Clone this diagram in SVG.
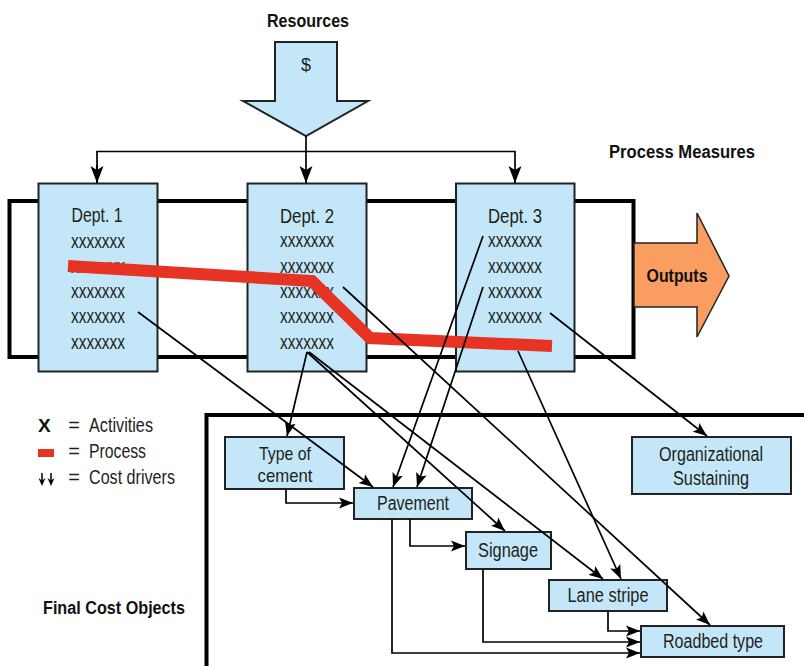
<svg xmlns="http://www.w3.org/2000/svg" width="804" height="666" viewBox="0 0 804 666">
<style>
.t{font-family:"Liberation Sans Narrow","Liberation Sans",Arial,sans-serif;fill:#231f20;text-anchor:middle}
.b{font-family:"Liberation Sans Narrow","Liberation Sans",Arial,sans-serif;fill:#111;font-weight:bold}
.dept{font-size:20px}
.lbl{font-size:20px}
.box{fill:#c3e7f8;stroke:#222;stroke-width:2}
.frame{fill:none;stroke:#000;stroke-width:4}
.c{fill:none;stroke:#000;stroke-width:1.7}
</style>
<defs>
<marker id="ah" markerUnits="userSpaceOnUse" markerWidth="15" markerHeight="12" refX="14" refY="5.5" orient="auto" viewBox="0 0 15 11">
<path d="M0,0 L14,5.5 L0,11 L3,5.5 z" fill="#000"/>
</marker>
<marker id="ahb" markerUnits="userSpaceOnUse" markerWidth="18" markerHeight="14" refX="17" refY="6.5" orient="auto" viewBox="0 0 18 13">
<path d="M0,0 L17,6.5 L0,13 L4,6.5 z" fill="#000"/>
</marker>
</defs>

<!-- Process frame -->
<rect class="frame" x="9.5" y="201" width="624" height="156"/>

<!-- Final cost objects frame -->
<path class="frame" d="M206.5,666 V415 H804"/>

<!-- Resources -->
<g id="resources">
<text class="b" x="308" y="27" font-size="18" text-anchor="middle" textLength="82" lengthAdjust="spacingAndGlyphs">Resources</text>
<polygon points="275,42 337,42 337,101 368,101 306,136 243,101 275,101" fill="#c3e7f8" stroke="#222" stroke-width="2"/>
<text class="t" x="306" y="71" font-size="18">$</text>
</g>

<!-- Outputs -->
<g id="outputs">
<polygon points="634,243 697,243 697,213 729,276 697,337 697,307 634,307" fill="#f99d60" stroke="#222" stroke-width="1.5"/>
<text class="b" x="677" y="282" font-size="18" text-anchor="middle" textLength="61" lengthAdjust="spacingAndGlyphs">Outputs</text>
</g>

<text class="b" x="609" y="158" font-size="18" textLength="146" lengthAdjust="spacingAndGlyphs">Process Measures</text>
<text class="b" x="43" y="614" font-size="18" textLength="142" lengthAdjust="spacingAndGlyphs">Final Cost Objects</text>

<!-- Departments -->
<g id="dept1">
<rect class="box" x="38.5" y="183.5" width="119" height="188"/>
<text class="t dept" x="97" y="222" textLength="51" lengthAdjust="spacingAndGlyphs">Dept. 1</text>
<text class="t dept" x="98" y="248" textLength="54" lengthAdjust="spacingAndGlyphs">xxxxxxx</text>
<text class="t dept" x="98" y="273" textLength="54" lengthAdjust="spacingAndGlyphs">xxxxxxx</text>
<text class="t dept" x="98" y="298" textLength="54" lengthAdjust="spacingAndGlyphs">xxxxxxx</text>
<text class="t dept" x="98" y="323" textLength="54" lengthAdjust="spacingAndGlyphs">xxxxxxx</text>
<text class="t dept" x="98" y="349" textLength="54" lengthAdjust="spacingAndGlyphs">xxxxxxx</text>
</g>
<g id="dept2">
<rect class="box" x="247.5" y="183.5" width="119" height="188"/>
<text class="t dept" x="307" y="223" textLength="54" lengthAdjust="spacingAndGlyphs">Dept. 2</text>
<text class="t dept" x="307" y="247" textLength="54" lengthAdjust="spacingAndGlyphs">xxxxxxx</text>
<text class="t dept" x="307" y="273" textLength="54" lengthAdjust="spacingAndGlyphs">xxxxxxx</text>
<text class="t dept" x="307" y="298" textLength="54" lengthAdjust="spacingAndGlyphs">xxxxxxx</text>
<text class="t dept" x="307" y="323" textLength="54" lengthAdjust="spacingAndGlyphs">xxxxxxx</text>
<text class="t dept" x="307" y="349" textLength="54" lengthAdjust="spacingAndGlyphs">xxxxxxx</text>
</g>
<g id="dept3">
<rect class="box" x="456" y="183.5" width="118.5" height="188"/>
<text class="t dept" x="515" y="223" textLength="54" lengthAdjust="spacingAndGlyphs">Dept. 3</text>
<text class="t dept" x="515" y="247" textLength="54" lengthAdjust="spacingAndGlyphs">xxxxxxx</text>
<text class="t dept" x="515" y="273" textLength="54" lengthAdjust="spacingAndGlyphs">xxxxxxx</text>
<text class="t dept" x="515" y="298" textLength="54" lengthAdjust="spacingAndGlyphs">xxxxxxx</text>
<text class="t dept" x="515" y="323" textLength="54" lengthAdjust="spacingAndGlyphs">xxxxxxx</text>
</g>

<!-- Process line -->
<polyline id="process" points="68,266 312,281 370,338 552,346" fill="none" stroke="#e63323" stroke-width="12"/>

<!-- Lower nodes -->
<g id="type-of-cement">
<rect class="box" x="225" y="437" width="119" height="52"/>
<text class="t" font-size="19" x="285" y="460" textLength="52" lengthAdjust="spacingAndGlyphs">Type of</text>
<text class="t" font-size="19" x="285" y="482" textLength="55" lengthAdjust="spacingAndGlyphs">cement</text>
</g>
<g id="pavement">
<rect class="box" x="354" y="488" width="118" height="31"/>
<text class="t lbl" x="413" y="510" textLength="72" lengthAdjust="spacingAndGlyphs">Pavement</text>
</g>
<g id="signage">
<rect class="box" x="466" y="532" width="85" height="37"/>
<text class="t lbl" x="508" y="557" textLength="60" lengthAdjust="spacingAndGlyphs">Signage</text>
</g>
<g id="lane-stripe">
<rect class="box" x="549" y="580" width="118" height="31"/>
<text class="t lbl" x="608" y="602" textLength="81" lengthAdjust="spacingAndGlyphs">Lane stripe</text>
</g>
<g id="roadbed-type">
<rect class="box" x="641" y="626" width="143" height="31"/>
<text class="t lbl" x="713" y="648" textLength="100" lengthAdjust="spacingAndGlyphs">Roadbed type</text>
</g>
<g id="organizational-sustaining">
<rect class="box" x="632" y="437" width="159" height="57"/>
<text class="t lbl" x="711" y="461" textLength="104" lengthAdjust="spacingAndGlyphs">Organizational</text>
<text class="t lbl" x="711" y="485" textLength="76" lengthAdjust="spacingAndGlyphs">Sustaining</text>
</g>

<!-- Legend -->
<g id="legend">
<text class="b" x="38" y="432" font-size="19">X</text>
<text class="t lbl" x="74" y="432">=</text>
<text class="t lbl" x="89" y="432" style="text-anchor:start" textLength="64" lengthAdjust="spacingAndGlyphs">Activities</text>
<rect x="38" y="449" width="16" height="8" fill="#e63323"/>
<text class="t lbl" x="74" y="458">=</text>
<text class="t lbl" x="89" y="458" style="text-anchor:start" textLength="57" lengthAdjust="spacingAndGlyphs">Process</text>
<path d="M42,473 V483 M51,473 V483" stroke="#000" stroke-width="1.5"/>
<path d="M38.5,478 L42,486 L45.5,478 L42,480.5z M47.5,478 L51,486 L54.5,478 L51,480.5z" fill="#000"/>
<text class="t lbl" x="74" y="484">=</text>
<text class="t lbl" x="89" y="484" style="text-anchor:start" textLength="86" lengthAdjust="spacingAndGlyphs">Cost drivers</text>
</g>

<!-- Connectors -->
<g id="connectors">
<path class="c" d="M306,136 V183" marker-end="url(#ahb)"/>
<path class="c" d="M97,183 V151.5 H515 V183" marker-end="url(#ahb)"/>
<path class="c" d="M97,165 V183" marker-end="url(#ahb)"/>
<path class="c" d="M138,312 L373,487" marker-end="url(#ah)"/>
<path class="c" d="M307,352 L287,436" marker-end="url(#ah)"/>
<path class="c" d="M307,352 L505,531" marker-end="url(#ah)"/>
<path class="c" d="M309,352 L603,579" marker-end="url(#ah)"/>
<path class="c" d="M343,287 L710,625" marker-end="url(#ah)"/>
<path class="c" d="M483,236 L393,487" marker-end="url(#ah)"/>
<path class="c" d="M483,287 L417,487" marker-end="url(#ah)"/>
<path class="c" d="M518,351 L621,579" marker-end="url(#ah)"/>
<path class="c" d="M550,313 L707,436" marker-end="url(#ah)"/>
<path class="c" d="M286,489 V503 H353" marker-end="url(#ah)"/>
<path class="c" d="M410,519 V546 H465" marker-end="url(#ah)"/>
<path class="c" d="M392,519 V653 H640" marker-end="url(#ah)"/>
<path class="c" d="M483,569 V642 H640" marker-end="url(#ah)"/>
<path class="c" d="M608,611 V631 H640" marker-end="url(#ah)"/>
</g>
</svg>
